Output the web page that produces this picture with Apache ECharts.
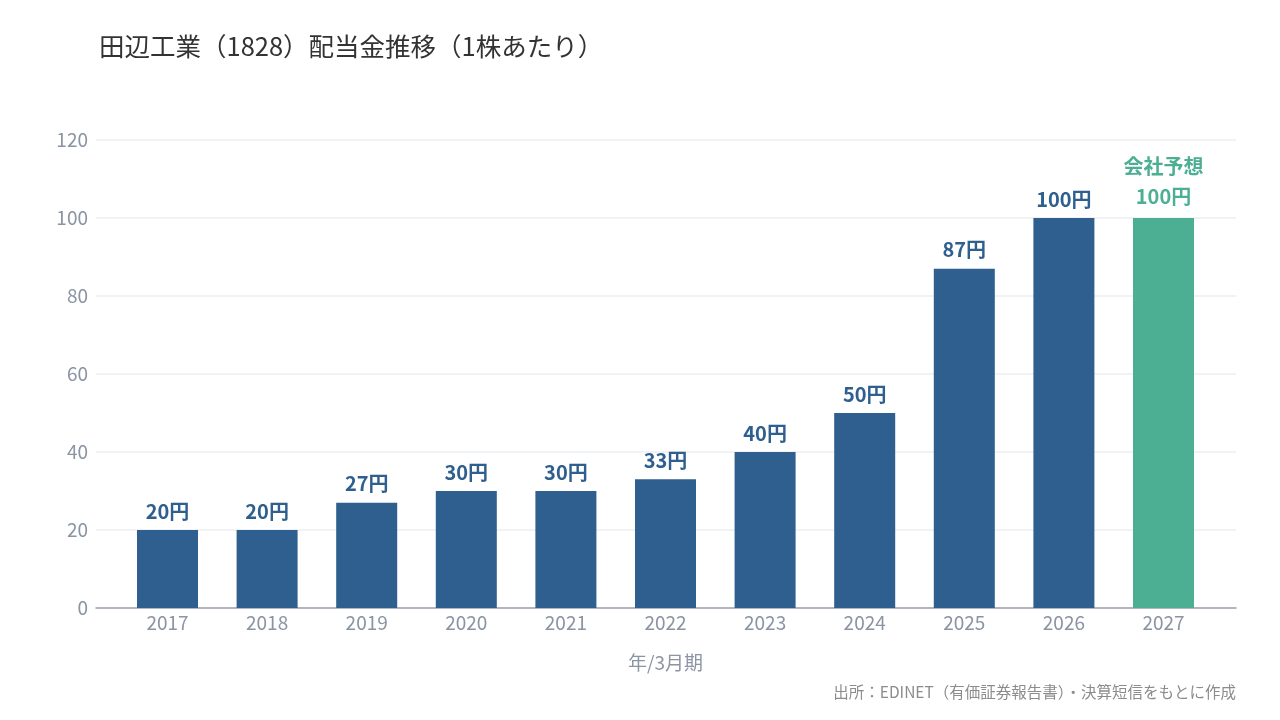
<!DOCTYPE html>
<html>
<head>
<meta charset="utf-8">
<script src="https://cdn.jsdelivr.net/npm/echarts@6/dist/echarts.min.js"></script>
<style>
  html, body { margin: 0; padding: 0; background: #fff; }
  #chart { width: 1280px; height: 720px; }
</style>
</head>
<body>
<div id="chart"></div>
<script>
const years = ["2017", "2018", "2019", "2020", "2021", "2022", "2023", "2024", "2025", "2026", "2027"];
const dividends = [20, 20, 27, 30, 30, 33, 40, 50, 87, 100, 100];
const forecastIndex = 10;
const yTicks = { min: 0, max: 120, interval: 20 };

const FONT = "'Noto Sans CJK JP', 'Noto Sans', sans-serif";
const BLUE = "#2e5f8e";
const GREEN = "#4caf93";
const GREY = "#8a94a3";

const chart = echarts.init(document.getElementById("chart"));

const barData = dividends.map((v, i) => {
  if (i === forecastIndex) {
    return {
      value: v,
      itemStyle: { color: GREEN },
      label: {
        formatter: "{a|会社予想}\n{b|" + v + "円}",
        rich: {
          a: { color: GREEN, fontSize: 20, fontWeight: "bold", fontFamily: FONT, lineHeight: 34 },
          b: { color: GREEN, fontSize: 20, fontWeight: "bold", fontFamily: FONT, lineHeight: 26 },
        },
      },
    };
  }
  return { value: v };
});

const option = {
  textStyle: { fontFamily: FONT },
  title: {
    text: "田辺工業（1828）配当金推移（1株あたり）",
    left: 94,
    top: 29,
    textStyle: { fontSize: 25.5, fontWeight: "normal", color: "#333", fontFamily: FONT },
  },
  graphic: [
    {
      type: "text",
      right: 44,
      top: 684,
      style: {
        text: "出所：EDINET（有価証券報告書）・決算短信をもとに作成",
        fill: "#8c8c8c",
        fontSize: 15.5,
        fontFamily: FONT,
      },
    },
  ],
  grid: [
    { left: 96, right: 44, top: 140, bottom: 112 },
    { left: 117.7, right: 66.7, top: 140, bottom: 112 },
  ],
  xAxis: [
    {
      gridIndex: 0,
      type: "value",
      min: 0,
      max: 1,
      axisLine: { show: true, lineStyle: { color: "#9aa3ad", width: 1.5 } },
      axisTick: { show: false },
      axisLabel: { show: false },
      splitLine: { show: false },
    },
    {
      gridIndex: 1,
      type: "category",
      data: years,
      name: "年/3月期",
      nameLocation: "middle",
      nameGap: 45,
      nameTextStyle: { color: GREY, fontSize: 19, fontFamily: FONT },
      axisLine: { show: false },
      axisTick: { show: false },
      axisLabel: { color: GREY, fontSize: 19, margin: 5, fontFamily: FONT },
    },
  ],
  yAxis: [
    {
      gridIndex: 0,
      type: "value",
      min: yTicks.min,
      max: yTicks.max,
      interval: yTicks.interval,
      axisLine: { show: false },
      axisTick: { show: false },
      axisLabel: { color: GREY, fontSize: 19, margin: 8, fontFamily: FONT },
      splitLine: { lineStyle: { color: "#eceef3", width: 1.5 } },
    },
    {
      gridIndex: 1,
      type: "value",
      min: yTicks.min,
      max: yTicks.max,
      interval: yTicks.interval,
      show: false,
      splitLine: { show: false },
    },
  ],
  series: [
    {
      type: "bar",
      xAxisIndex: 1,
      yAxisIndex: 1,
      data: barData,
      barWidth: 61,
      itemStyle: { color: BLUE },
      label: {
        show: true,
        position: "top",
        distance: 9,
        formatter: (p) => p.value + "円",
        color: BLUE,
        fontSize: 20,
        fontWeight: "bold",
        fontFamily: FONT,
      },
    },
  ],
};

option && chart.setOption(option);
</script>
</body>
</html>
